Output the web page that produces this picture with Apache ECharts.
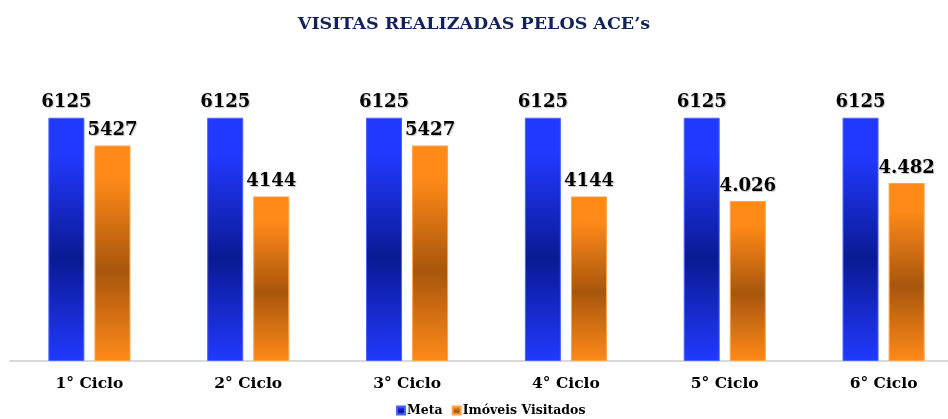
<!DOCTYPE html>
<html>
<head>
<meta charset="utf-8">
<script src="https://cdn.jsdelivr.net/npm/echarts@6/dist/echarts.min.js"></script>
<style>
  html, body { margin: 0; padding: 0; background: #fff; }
  #chart { width: 948px; height: 419px; }
</style>
</head>
<body>
<div id="chart"></div>
<script>
  // chart data
  var categories = ['1° Ciclo', '2° Ciclo', '3° Ciclo', '4° Ciclo', '5° Ciclo', '6° Ciclo'];
  var metaValues = [6125, 6125, 6125, 6125, 6125, 6125];
  var visitValues = [5427, 4144, 5427, 4144, 4026, 4482];
  var metaLabels = ['6125', '6125', '6125', '6125', '6125', '6125'];
  var visitLabels = ['5427', '4144', '5427', '4144', '4.026', '4.482'];

  var serif = '"DejaVu Serif", "Liberation Serif", serif';

  function barGradient(light, dark) {
    return new echarts.graphic.LinearGradient(0, 0, 0, 1, [
      { offset: 0, color: light },
      { offset: 0.15, color: light },
      { offset: 0.58, color: dark },
      { offset: 1, color: light }
    ]);
  }

  var valueLabel = function (labels) {
    return {
      show: true,
      position: 'top',
      distance: 6,
      color: '#000',
      fontFamily: serif,
      fontWeight: 'bold',
      fontSize: 18,
      textShadowColor: 'rgba(0,0,0,0.25)',
      textShadowBlur: 1,
      textShadowOffsetX: 1,
      textShadowOffsetY: 1,
      formatter: function (p) { return labels[p.dataIndex]; }
    };
  };

  var chart = echarts.init(document.getElementById('chart'), null, { renderer: 'canvas' });
  var option = {
    animation: false,
    title: {
      text: 'VISITAS REALIZADAS PELOS ACE’s',
      left: 'center',
      top: 10,
      textStyle: {
        color: '#13235a',
        fontFamily: serif,
        fontWeight: 'bold',
        fontSize: 17.5
      }
    },
    legend: {
      bottom: -3,
      left: 391,
      itemWidth: 8,
      itemHeight: 8,
      itemGap: 9,
      icon: 'rect',
      textStyle: {
        color: '#000',
        fontFamily: serif,
        fontWeight: 'bold',
        fontSize: 12.5,
        padding: [0, 0, 0, -3]
      }
    },
    grid: {
      left: 10,
      width: 953,
      top: 83,
      bottom: 58,
      outerBoundsMode: 'none'
    },
    xAxis: {
      type: 'category',
      data: categories,
      axisLine: { lineStyle: { color: '#d9d9d9', width: 2 } },
      axisTick: { show: false },
      axisLabel: {
        color: '#000',
        fontFamily: serif,
        fontWeight: 'bold',
        fontSize: 15.5,
        margin: 15
      }
    },
    yAxis: {
      type: 'value',
      min: 0,
      max: 7000,
      show: false,
      splitLine: { show: false }
    },
    series: [
      {
        name: 'Meta',
        type: 'bar',
        barWidth: 36,
        barGap: '28%',
        data: metaValues,
        itemStyle: {
          color: barGradient('#2139ff', '#0a1a92'),
          borderColor: '#4a63ff',
          borderWidth: 1
        },
        label: valueLabel(metaLabels)
      },
      {
        name: 'Imóveis Visitados',
        type: 'bar',
        barWidth: 36,
        data: visitValues,
        itemStyle: {
          color: barGradient('#ff8a18', '#a8560c'),
          borderColor: '#ffa24a',
          borderWidth: 1
        },
        label: valueLabel(visitLabels)
      }
    ]
  };
  chart.setOption(option);
</script>
</body>
</html>
